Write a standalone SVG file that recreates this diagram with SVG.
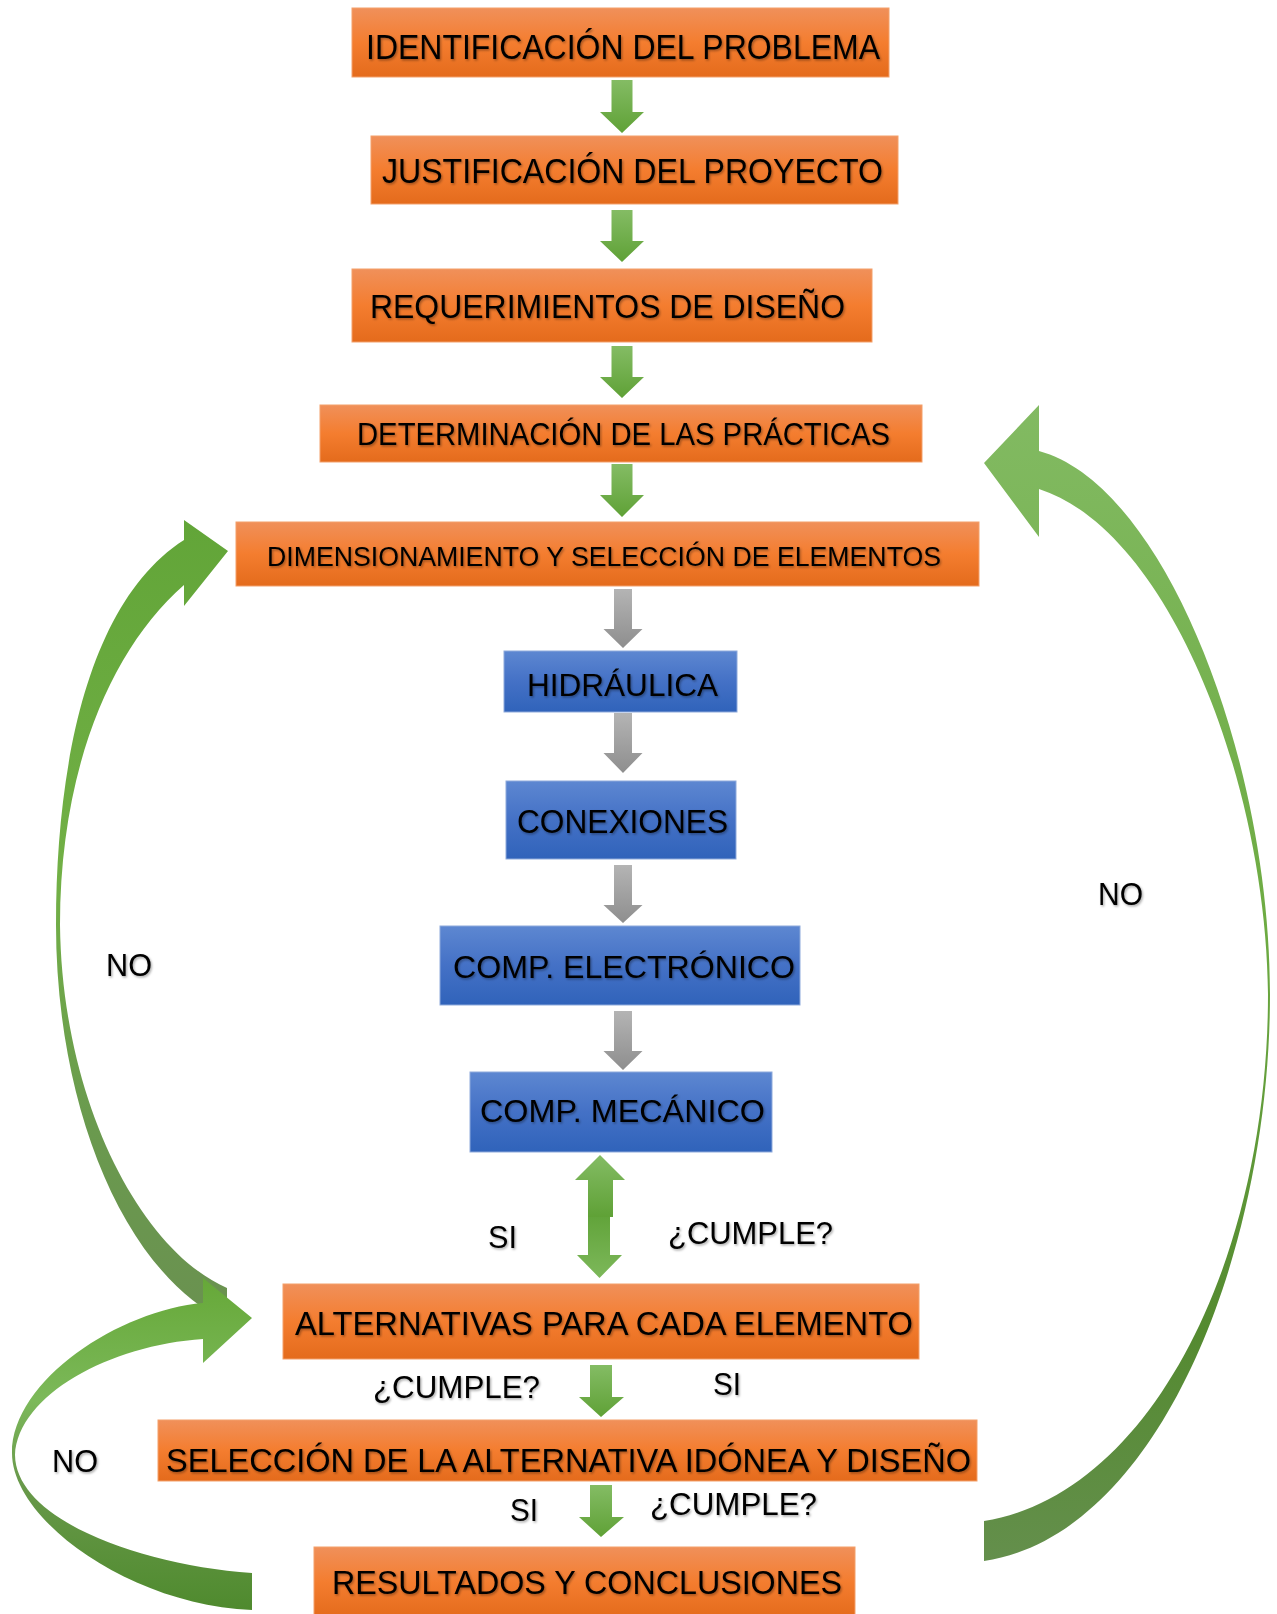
<svg xmlns="http://www.w3.org/2000/svg" width="1277" height="1614" viewBox="0 0 1277 1614">
<defs>
<linearGradient id="gO" x1="0" y1="0" x2="0" y2="1"><stop offset="0" stop-color="#F0905A"/><stop offset="0.5" stop-color="#F47D2F"/><stop offset="1" stop-color="#E46B1C"/></linearGradient>
<linearGradient id="gB" x1="0" y1="0" x2="0" y2="1"><stop offset="0" stop-color="#5D87D1"/><stop offset="0.5" stop-color="#4471C6"/><stop offset="1" stop-color="#3063BA"/></linearGradient>
<linearGradient id="gG" x1="0" y1="0" x2="0" y2="1"><stop offset="0" stop-color="#84BC64"/><stop offset="1" stop-color="#5FA136"/></linearGradient>
<linearGradient id="gGr" x1="0" y1="0" x2="0" y2="1"><stop offset="0" stop-color="#7DB85A"/><stop offset="1" stop-color="#62A43B"/></linearGradient>
<linearGradient id="gGray" x1="0" y1="0" x2="0" y2="1"><stop offset="0" stop-color="#B4B4B4"/><stop offset="1" stop-color="#8E8E8E"/></linearGradient>
<linearGradient id="gL" gradientUnits="userSpaceOnUse" x1="0" y1="520" x2="0" y2="1322"><stop offset="0" stop-color="#62A538"/><stop offset="0.45" stop-color="#72B046"/><stop offset="0.75" stop-color="#6A9A4E"/><stop offset="1" stop-color="#6A9150"/></linearGradient>
<linearGradient id="gR" gradientUnits="userSpaceOnUse" x1="0" y1="405" x2="0" y2="1561"><stop offset="0" stop-color="#82BA62"/><stop offset="0.45" stop-color="#6DAB42"/><stop offset="0.8" stop-color="#548A30"/><stop offset="1" stop-color="#648F4C"/></linearGradient>
<linearGradient id="gBL" gradientUnits="userSpaceOnUse" x1="0" y1="1278" x2="0" y2="1610"><stop offset="0" stop-color="#66A838"/><stop offset="0.37" stop-color="#7CB95A"/><stop offset="0.6" stop-color="#6A9A4C"/><stop offset="1" stop-color="#4F8A2E"/></linearGradient>
<filter id="sh" x="-5%" y="-20%" width="110%" height="150%"><feDropShadow dx="1.2" dy="1.5" stdDeviation="1.1" flood-color="#000" flood-opacity="0.35"/></filter>
</defs>
<style>
.bo{fill:url(#gO);stroke:#F3A06A;stroke-width:1}
.bb{fill:url(#gB);stroke:#8EAADB;stroke-width:1}
.t{font-family:"Liberation Sans",Arial,sans-serif;fill:#000;filter:url(#sh)}
.ga{fill:url(#gG)}
.gy{fill:url(#gGray)}
</style>
<rect width="1277" height="1614" fill="#fff"/>
<g id="connectors">
<path id="loop-left" fill="url(#gL)" d="M 184,540 C 90,600 56,760 56,925 C 56,1100 120,1270 227,1322 L 227,1288 C 140,1250 62,1100 60,925 C 60,770 110,650 184,585 L 184,606 L 228,551 L 184,520 Z"/>
<path id="loop-right" fill="url(#gR)" d="M 1039,451 C 1165,485 1270,760 1270,994 C 1270,1250 1160,1535 984,1561 L 984,1521 C 1150,1495 1268,1260 1268,994 C 1266,780 1168,530 1039,489 L 1039,537 L 984,463 L 1039,405 Z"/>
<path id="loop-bottom" fill="url(#gBL)" d="M 252,1610 C 130,1605 12,1520 12,1453 C 12,1380 120,1310 203,1303 L 203,1278 L 252,1318 L 203,1363 L 203,1339 C 110,1345 18,1395 15,1455 C 16,1520 140,1565 252,1573 Z"/>
<polygon class="ga" points="611.5,80 632.5,80 632.5,112 644,112 622,133 600,112 611.5,112"/>
<polygon class="ga" points="611.5,210 632.5,210 632.5,241 644,241 622,262 600,241 611.5,241"/>
<polygon class="ga" points="611.5,346 632.5,346 632.5,377 644,377 622,398 600,377 611.5,377"/>
<polygon class="ga" points="611.5,464 632.5,464 632.5,495 644,495 622,517 600,495 611.5,495"/>
<polygon class="gy" points="614,589 632,589 632,629 642.5,629 623,648 603.5,629 614,629"/>
<polygon class="gy" points="614,713 632,713 632,753 642.5,753 623,773 603.5,753 614,753"/>
<polygon class="gy" points="614,865 632,865 632,905 642.5,905 623,923 603.5,905 614,905"/>
<polygon class="gy" points="614,1011 632,1011 632,1051 642.5,1051 623,1070 603.5,1051 614,1051"/>
<polygon fill="url(#gG)" points="600,1155 625,1180 613,1180 613,1217 588,1217 588,1180 575,1180"/>
<polygon fill="url(#gGr)" transform="translate(0,2495) scale(1,-1)" points="599.5,1217 622,1240 610,1240 610,1278 588,1278 588,1240 577,1240"/>
<polygon class="ga" points="590,1365 612,1365 612,1397 624,1397 601,1417 579,1397 590,1397"/>
<polygon class="ga" points="590,1485 612,1485 612,1517 624,1517 601,1537 579,1517 590,1517"/>
</g>
<g id="n1"><rect class="bo" x="352" y="8" width="537" height="69"/><text class="t" x="366" y="59" font-size="35" textLength="514" lengthAdjust="spacingAndGlyphs">IDENTIFICACIÓN DEL PROBLEMA</text></g>
<g id="n2"><rect class="bo" x="371" y="136" width="527" height="68"/><text class="t" x="382" y="183" font-size="35" textLength="501" lengthAdjust="spacingAndGlyphs">JUSTIFICACIÓN DEL PROYECTO</text></g>
<g id="n3"><rect class="bo" x="352" y="269" width="520" height="73"/><text class="t" x="370" y="318" font-size="34" textLength="475" lengthAdjust="spacingAndGlyphs">REQUERIMIENTOS DE DISEÑO</text></g>
<g id="n4"><rect class="bo" x="320" y="405" width="602" height="57"/><text class="t" x="357" y="445" font-size="31" textLength="533" lengthAdjust="spacingAndGlyphs">DETERMINACIÓN DE LAS PRÁCTICAS</text></g>
<g id="n5"><rect class="bo" x="236" y="522" width="743" height="64"/><text class="t" x="267" y="566" font-size="27" textLength="674" lengthAdjust="spacingAndGlyphs">DIMENSIONAMIENTO Y SELECCIÓN DE ELEMENTOS</text></g>
<g id="n6"><rect class="bb" x="504" y="651" width="233" height="61"/><text class="t" x="527" y="696" font-size="32" textLength="191" lengthAdjust="spacingAndGlyphs">HIDRÁULICA</text></g>
<g id="n7"><rect class="bb" x="506" y="781" width="230" height="78"/><text class="t" x="517" y="833" font-size="33" textLength="211" lengthAdjust="spacingAndGlyphs">CONEXIONES</text></g>
<g id="n8"><rect class="bb" x="440" y="926" width="360" height="79"/><text class="t" x="453" y="978" font-size="32" textLength="342" lengthAdjust="spacingAndGlyphs">COMP. ELECTRÓNICO</text></g>
<g id="n9"><rect class="bb" x="470" y="1072" width="302" height="80"/><text class="t" x="480" y="1122" font-size="32" textLength="285" lengthAdjust="spacingAndGlyphs">COMP. MECÁNICO</text></g>
<g id="n10"><rect class="bo" x="283" y="1284" width="636" height="75"/><text class="t" x="295" y="1335" font-size="33" textLength="618" lengthAdjust="spacingAndGlyphs">ALTERNATIVAS PARA CADA ELEMENTO</text></g>
<g id="n11"><rect class="bo" x="158" y="1420" width="819" height="61"/><text class="t" x="166" y="1472" font-size="33" textLength="805" lengthAdjust="spacingAndGlyphs">SELECCIÓN DE LA ALTERNATIVA IDÓNEA Y DISEÑO</text></g>
<g id="n12"><rect class="bo" x="314" y="1547" width="541" height="70"/><text class="t" x="332" y="1594" font-size="33" textLength="510" lengthAdjust="spacingAndGlyphs">RESULTADOS Y CONCLUSIONES</text></g>
<g id="labels">
<text class="t" x="488" y="1248" font-size="32" textLength="29" lengthAdjust="spacingAndGlyphs">SI</text>
<text class="t" x="668" y="1244" font-size="32" textLength="165" lengthAdjust="spacingAndGlyphs">¿CUMPLE?</text>
<text class="t" x="373" y="1398" font-size="32" textLength="167" lengthAdjust="spacingAndGlyphs">¿CUMPLE?</text>
<text class="t" x="713" y="1395" font-size="32" textLength="28" lengthAdjust="spacingAndGlyphs">SI</text>
<text class="t" x="510" y="1521" font-size="32" textLength="28" lengthAdjust="spacingAndGlyphs">SI</text>
<text class="t" x="650" y="1515" font-size="32" textLength="167" lengthAdjust="spacingAndGlyphs">¿CUMPLE?</text>
<text class="t" x="106" y="976" font-size="31" textLength="46" lengthAdjust="spacingAndGlyphs">NO</text>
<text class="t" x="1098" y="905" font-size="31" textLength="45" lengthAdjust="spacingAndGlyphs">NO</text>
<text class="t" x="52" y="1472" font-size="31" textLength="46" lengthAdjust="spacingAndGlyphs">NO</text>
</g>
</svg>
